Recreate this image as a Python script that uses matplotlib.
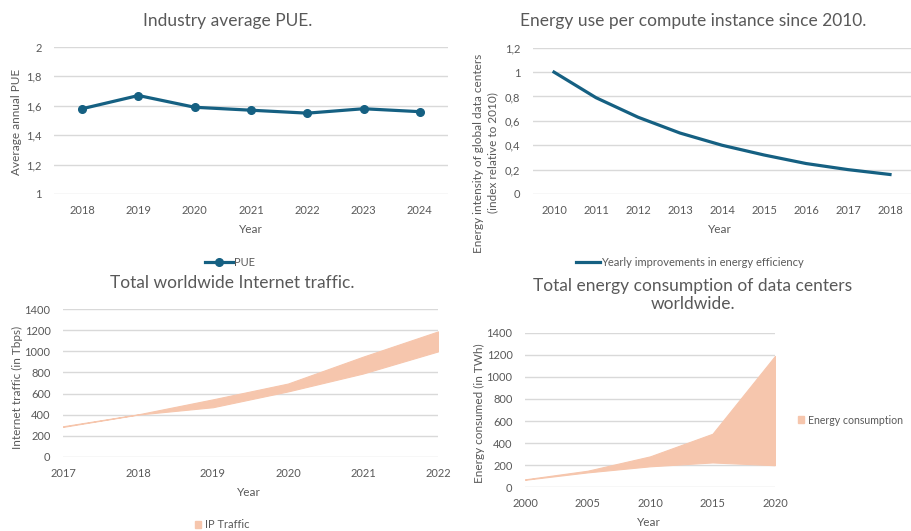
import matplotlib.pyplot as plt
from matplotlib.patches import Patch
from matplotlib.lines import Line2D

plt.rcParams['font.family'] = ['Lato', 'DejaVu Sans']

W, H = 912, 531
GREY = '#595959'
GRID = '#d9d9d9'
BLUE = '#156082'
PEACH = '#f6c6ad'

# data
pue_years = ['2018', '2019', '2020', '2021', '2022', '2023', '2024']
pue = [1.58, 1.67, 1.59, 1.57, 1.55, 1.58, 1.56]

eff_years = ['2010', '2011', '2012', '2013', '2014', '2015', '2016', '2017', '2018']
eff = [1.0, 0.79, 0.63, 0.50, 0.40, 0.32, 0.25, 0.20, 0.16]

ip_years = [2017, 2018, 2019, 2020, 2021, 2022]
ip_low = [283, 400, 470, 620, 790, 1000]
ip_high = [289, 402, 545, 695, 950, 1190]

en_years = [2000, 2005, 2010, 2015, 2020]
en_low = [68, 135, 190, 225, 200]
en_high = [72, 150, 280, 485, 1190]

fig = plt.figure(figsize=(W / 100, H / 100), dpi=100)


def box(x0, y0, x1, y1):
    return [x0 / W, 1 - y1 / H, (x1 - x0) / W, (y1 - y0) / H]


def txt(x, y, s, **kw):
    kw.setdefault('color', GREY)
    kw.setdefault('ha', 'center')
    kw.setdefault('va', 'center')
    fig.text(x / W, 1 - y / H, s, **kw)


def style(ax):
    for s in ax.spines.values():
        s.set_visible(False)
    ax.grid(axis='y', color=GRID, lw=1)
    ax.set_axisbelow(True)
    ax.tick_params(length=0, colors=GREY, labelsize=8)
    ax.tick_params(axis='x', pad=8)
    ax.tick_params(axis='y', pad=9)


# top-left: PUE
ax1 = fig.add_axes(box(54, 47, 448, 194))
style(ax1)
ax1.plot(range(len(pue)), pue, color=BLUE, lw=2.3, marker='o', ms=5.5)
ax1.set_xlim(-0.5, len(pue) - 0.5)
ax1.set_xticks(range(len(pue)))
ax1.set_xticklabels(pue_years)
ax1.set_ylim(1, 2)
ax1.set_yticks([1, 1.2, 1.4, 1.6, 1.8, 2])
ax1.set_yticklabels(['1', '1,2', '1,4', '1,6', '1,8', '2'])
txt(228, 21, 'Industry average PUE.', fontsize=12.5)
txt(251, 229, 'Year', fontsize=8.5)
txt(17, 122, 'Average annual PUE', fontsize=8.5, rotation=90)
fig.legend(handles=[Line2D([], [], color=BLUE, lw=2.3, marker='o', ms=5.5)],
           labels=['PUE'], loc='center', bbox_to_anchor=(230 / W, 1 - 262 / H),
           frameon=False, fontsize=8, labelcolor=GREY, handlelength=2.5,
           handletextpad=0.1)

# top-right: energy efficiency
ax2 = fig.add_axes(box(533, 47.7, 911, 194))
style(ax2)
ax2.plot(range(len(eff)), eff, color=BLUE, lw=2.3)
ax2.set_xlim(-0.5, len(eff) - 0.5)
ax2.set_xticks(range(len(eff)))
ax2.set_xticklabels(eff_years)
ax2.set_ylim(0, 1.2)
ax2.set_yticks([0, 0.2, 0.4, 0.6, 0.8, 1, 1.2])
ax2.set_yticklabels(['0', '0,2', '0,4', '0,6', '0,8', '1', '1,2'])
txt(693, 21, 'Energy use per compute instance since 2010.', fontsize=12.5)
txt(720, 229, 'Year', fontsize=8.5)
txt(486, 153, 'Energy intensity of global data centers\n(index relative to 2010)',
    fontsize=8.5, rotation=90, linespacing=1.35)
fig.legend(handles=[Line2D([], [], color=BLUE, lw=2.3)],
           labels=['Yearly improvements in energy efficiency'], loc='center',
           bbox_to_anchor=(690 / W, 1 - 262 / H), frameon=False, fontsize=8,
           labelcolor=GREY, handlelength=2.2, handletextpad=0.1)

# bottom-left: internet traffic
ax3 = fig.add_axes(box(63, 309.3, 438, 456.7))
style(ax3)
ax3.fill_between(ip_years, ip_low, ip_high, color=PEACH, lw=0.8, edgecolor=PEACH)
ax3.set_xlim(2017, 2022)
ax3.set_xticks(ip_years)
ax3.set_ylim(0, 1400)
ax3.set_yticks(range(0, 1401, 200))
txt(232, 283, 'Total worldwide Internet traffic.', fontsize=12.5)
txt(249, 492, 'Year', fontsize=8.5)
txt(17, 387, 'Internet traffic (in Tbps)', fontsize=8.5, rotation=90)
fig.legend(handles=[Patch(color=PEACH)], labels=['IP Traffic'], loc='center',
           bbox_to_anchor=(222 / W, 1 - 525 / H), frameon=False, fontsize=8,
           labelcolor=GREY, handlelength=0.6, handleheight=0.6,
           handletextpad=0.3)

# bottom-right: energy consumption
ax4 = fig.add_axes(box(525, 332.7, 775, 487.3))
style(ax4)
ax4.fill_between(en_years, en_low, en_high, color=PEACH, lw=0.8, edgecolor=PEACH)
ax4.set_xlim(2000, 2020)
ax4.set_xticks(en_years)
ax4.set_ylim(0, 1400)
ax4.set_yticks(range(0, 1401, 200))
txt(693, 295, 'Total energy consumption of data centers\nworldwide.',
    fontsize=12.5, linespacing=1.15)
txt(649, 522, 'Year', fontsize=8.5)
txt(479, 413, 'Energy consumed (in TWh)', fontsize=8.5, rotation=90)
fig.legend(handles=[Patch(color=PEACH)], labels=['Energy consumption'],
           loc='center left', bbox_to_anchor=(796 / W, 1 - 420 / H),
           frameon=False, fontsize=7.6, labelcolor=GREY, handlelength=0.6,
           handleheight=0.6, handletextpad=0.3, borderaxespad=0,
           borderpad=0.2)

fig.savefig('out.png', dpi=100)
